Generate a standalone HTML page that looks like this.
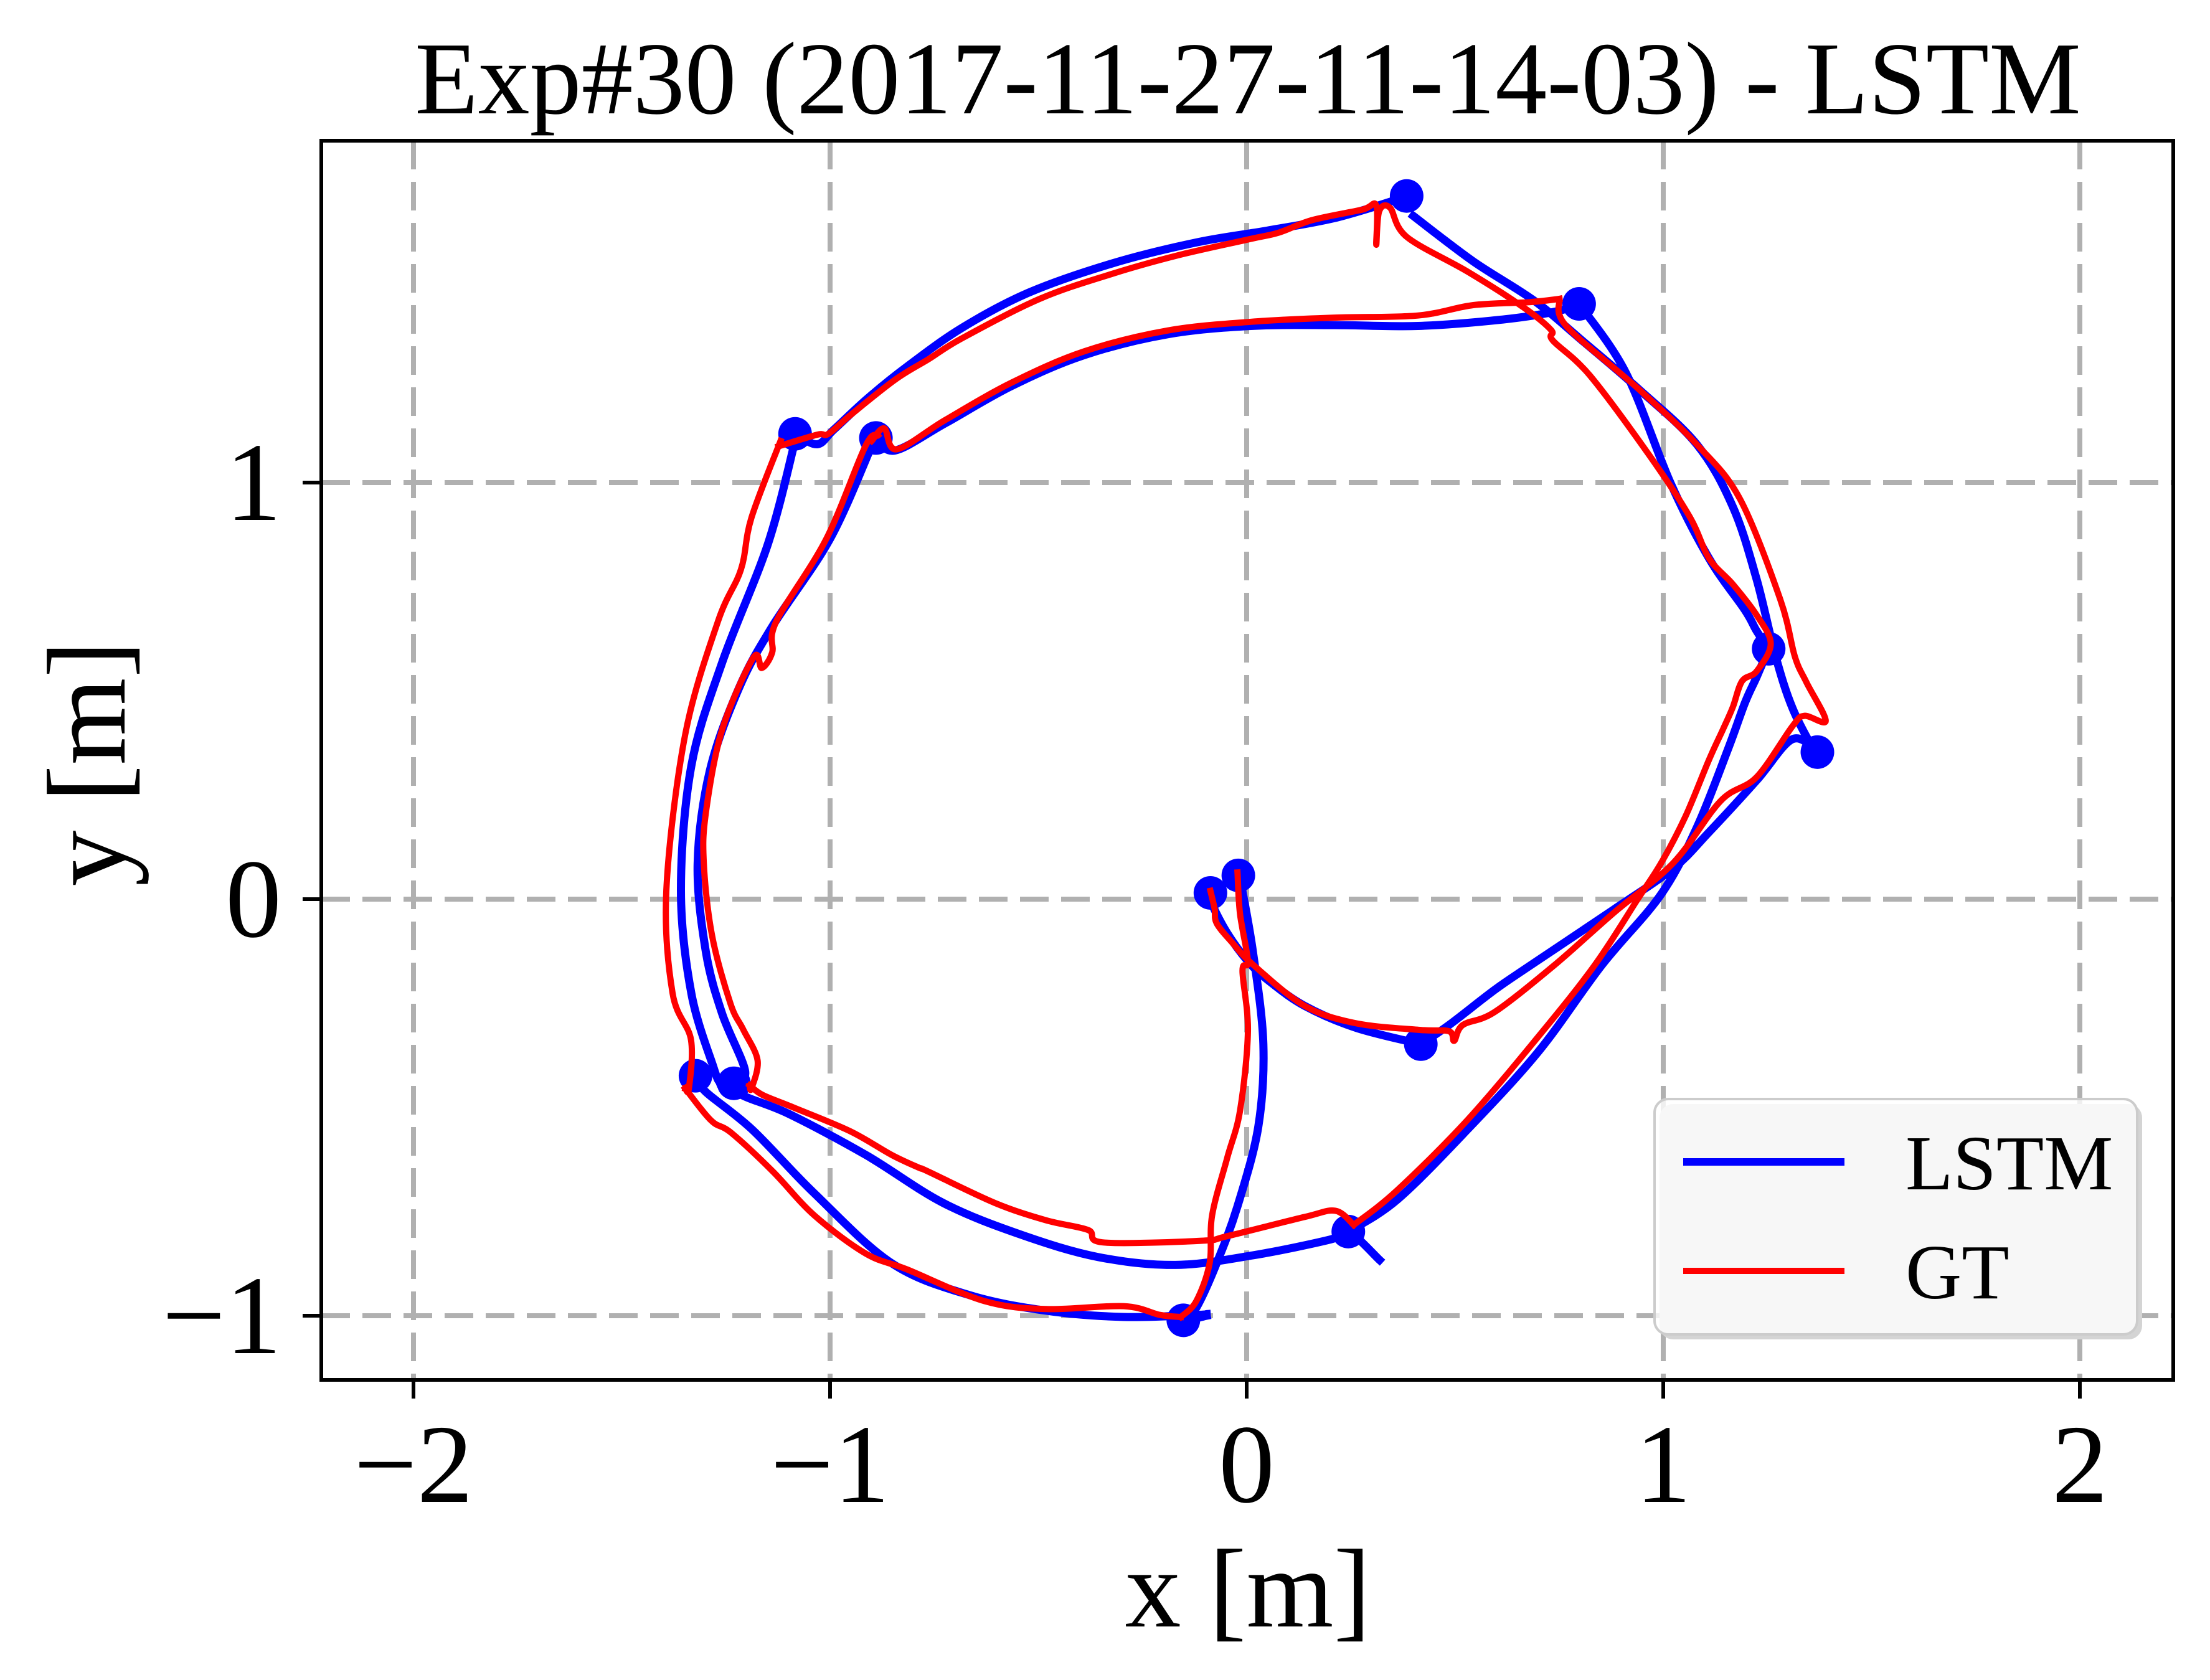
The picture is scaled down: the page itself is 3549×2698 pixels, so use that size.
<!DOCTYPE html>
<html><head><meta charset="utf-8"><style>
html,body{margin:0;padding:0;background:#fff;}
svg{display:block;font-family:"Liberation Serif","DejaVu Serif",serif;}
</style></head><body>
<svg id="chart" width="3549" height="2698" viewBox="0 0 3549 2698" xmlns="http://www.w3.org/2000/svg">
<rect x="0" y="0" width="3549" height="2698" fill="#fff"/>
<text x="2004" y="182" font-size="166" text-anchor="middle">Exp#30 (2017-11-27-11-14-03) - LSTM</text>
<g id="grid"></g>
<g id="series"></g>
<rect x="516" y="226" width="2974" height="1990" fill="none" stroke="#000" stroke-width="6"/>
<g id="ticks"></g>
<text x="2004" y="2612" font-size="180" text-anchor="middle">x [m]</text>
<text x="200" y="1226" font-size="180" text-anchor="middle" transform="rotate(-90 200 1226)">y [m]</text>
<g>
<rect x="2665" y="1773" width="775" height="378" rx="22" fill="#d4d4d4"/>
<rect x="2657" y="1765" width="775" height="378" rx="22" fill="#fff" fill-opacity="0.8" stroke="#cccccc" stroke-width="4"/>
<line x1="2703" y1="1866" x2="2962" y2="1866" stroke="#0000ff" stroke-width="12"/>
<text x="3060" y="1910" font-size="125">LSTM</text>
<line x1="2703" y1="2041" x2="2962" y2="2041" stroke="#ff0000" stroke-width="10"/>
<text x="3060" y="2085" font-size="125">GT</text>
</g>
</svg>
<script>
const xTicks = [-2, -1, 0, 1, 2];
const yTicks = [-1, 0, 1];
const xTickLabels = ["\u22122", "\u22121", "0", "1", "2"];
const yTickLabels = ["\u22121", "0", "1"];

const lstmOuterTop = [[-1.084,1.117],[-1.031,1.092],[-0.991,1.127],[-0.910,1.202],[-0.817,1.277],[-0.684,1.371],[-0.523,1.456],[-0.323,1.526],[-0.123,1.576],[0.050,1.605],[0.211,1.635],[0.357,1.678],[0.384,1.688]];
const lstmOuterRight = [[0.400,1.640],[0.544,1.531],[0.691,1.436],[0.811,1.336],[0.938,1.227],[1.081,1.091],[1.167,0.942],[1.224,0.768],[1.270,0.582],[1.310,0.459],[1.361,0.359],[1.370,0.353]];
const lstmRightToCenter = [[1.370,0.353],[1.310,0.384],[1.224,0.285],[1.110,0.161],[1.024,0.074],[0.881,-0.025],[0.681,-0.159],[0.595,-0.218],[0.486,-0.302],[0.418,-0.348]];
const lstmInnerCenter = [[0.418,-0.348],[0.263,-0.309],[0.139,-0.256],[0.052,-0.195],[0.003,-0.149],[-0.047,-0.081],[-0.083,-0.012],[-0.087,0.015]];
const lstmCenterDown = [[-0.020,0.057],[-0.016,0.049],[0.015,-0.126],[0.040,-0.348],[0.028,-0.546],[-0.022,-0.737],[-0.072,-0.874],[-0.121,-0.981],[-0.152,-1.011],[-0.096,-1.000]];
const lstmOuterBottom = [[-1.323,-0.424],[-1.299,-0.462],[-1.187,-0.553],[-1.038,-0.706],[-0.852,-0.874],[-0.667,-0.950],[-0.481,-0.988],[-0.295,-1.003],[-0.121,-0.998],[-0.096,-0.996]];
const lstmOuterLeft = [[-1.084,1.100],[-1.149,0.853],[-1.259,0.568],[-1.333,0.320],[-1.358,0.022],[-1.333,-0.226],[-1.279,-0.406],[-1.265,-0.440]];
const lstmInnerLeft = [[-0.890,1.107],[-0.900,1.088],[-1.000,0.865],[-1.139,0.654],[-1.219,0.506],[-1.289,0.307],[-1.318,0.084],[-1.298,-0.127],[-1.259,-0.275],[-1.204,-0.412],[-1.231,-0.442]];
const lstmInnerTop = [[-0.890,1.107],[-0.844,1.077],[-0.724,1.142],[-0.564,1.232],[-0.390,1.306],[-0.190,1.356],[0.010,1.376],[0.211,1.378],[0.411,1.376],[0.611,1.391],[0.744,1.411],[0.798,1.429]];
const lstmInnerRight = [[0.798,1.429],[0.910,1.264],[1.018,0.998],[1.110,0.818],[1.196,0.694],[1.224,0.644],[1.253,0.601]];
const lstmRightToBottom = [[1.253,0.601],[1.224,0.533],[1.196,0.471],[1.155,0.359],[1.081,0.173],[0.995,0.012],[0.852,-0.159],[0.701,-0.365],[0.531,-0.552],[0.362,-0.721],[0.244,-0.798]];
const lstmInnerBottom = [[0.319,-0.866],[0.244,-0.798],[0.201,-0.817],[0.015,-0.855],[-0.171,-0.878],[-0.357,-0.859],[-0.543,-0.805],[-0.729,-0.729],[-0.914,-0.614],[-1.100,-0.515],[-1.212,-0.470],[-1.231,-0.442]];

const gtOuterTopRight = [[-1.124,1.087],[-1.031,1.115],[-1.004,1.117],[-0.951,1.162],[-0.844,1.247],[-0.764,1.296],[-0.684,1.346],[-0.497,1.441],[-0.323,1.501],[-0.163,1.546],[0.010,1.585],[0.077,1.600],[0.157,1.630],[0.277,1.655],[0.311,1.665],[0.311,1.571],[0.318,1.651],[0.344,1.660],[0.384,1.590],[0.531,1.506],[0.664,1.421],[0.731,1.366],[0.735,1.341],[0.824,1.257],[0.969,1.062],[1.064,0.917],[1.110,0.818],[1.167,0.756],[1.224,0.682],[1.258,0.613],[1.224,0.547],[1.189,0.523],[1.167,0.461],[1.144,0.409],[1.110,0.335],[1.053,0.198],[0.995,0.087],[0.938,-0.001],[0.835,-0.159],[0.700,-0.330],[0.530,-0.530],[0.360,-0.700],[0.257,-0.782]];
const gtInnerBottom = [[0.257,-0.782],[0.213,-0.748],[0.139,-0.763],[-0.047,-0.809],[-0.109,-0.820],[-0.344,-0.824],[-0.381,-0.794],[-0.481,-0.771],[-0.605,-0.729],[-0.766,-0.653],[-0.786,-0.645],[-0.852,-0.614],[-0.952,-0.557],[-1.088,-0.500],[-1.162,-0.470],[-1.193,-0.447]];
const gtInnerLeft = [[-0.885,1.113],[-0.915,1.088],[-1.009,0.865],[-1.129,0.667],[-1.139,0.592],[-1.164,0.555],[-1.184,0.580],[-1.259,0.407],[-1.298,0.208],[-1.303,0.084],[-1.283,-0.089],[-1.239,-0.251],[-1.209,-0.312],[-1.174,-0.387],[-1.189,-0.455],[-1.193,-0.447]];
const gtInnerTop = [[-0.900,1.100],[-0.870,1.130],[-0.840,1.080],[-0.724,1.150],[-0.564,1.240],[-0.390,1.315],[-0.190,1.365],[0.010,1.386],[0.211,1.396],[0.411,1.401],[0.544,1.426],[0.678,1.433],[0.751,1.441]];
const gtOuterRight = [[0.751,1.441],[0.767,1.376],[0.938,1.227],[1.081,1.091],[1.184,0.961],[1.281,0.719],[1.316,0.582],[1.344,0.520],[1.390,0.428],[1.339,0.440],[1.310,0.415],[1.224,0.293],[1.138,0.236],[1.024,0.087],[0.881,-0.033],[0.738,-0.159],[0.595,-0.271],[0.519,-0.302],[0.498,-0.340],[0.486,-0.317],[0.418,-0.314],[0.263,-0.298],[0.139,-0.256],[0.015,-0.157],[-0.035,-0.104],[-0.072,-0.058],[-0.077,-0.023],[-0.087,0.020]];
const gtCenterDown = [[-0.022,0.064],[-0.016,-0.035],[0.003,-0.149],[-0.010,-0.172],[0.003,-0.317],[-0.016,-0.508],[-0.047,-0.622],[-0.083,-0.759],[-0.089,-0.874],[-0.121,-0.965],[-0.158,-1.003]];
const gtOuterBottom = [[-1.348,-0.454],[-1.286,-0.531],[-1.237,-0.561],[-1.138,-0.653],[-1.038,-0.759],[-0.914,-0.851],[-0.815,-0.889],[-0.629,-0.965],[-0.481,-0.984],[-0.295,-0.977],[-0.208,-0.998],[-0.158,-1.003]];
const gtOuterLeft = [[-1.119,1.100],[-1.189,0.915],[-1.214,0.791],[-1.269,0.667],[-1.348,0.394],[-1.393,0.022],[-1.378,-0.226],[-1.334,-0.337],[-1.339,-0.455],[-1.348,-0.454]];

const waypointX = [-1.084,-0.890,0.384,0.798,1.253,1.370,0.418,-0.087,-0.020,0.244,-0.152,-1.323,-1.231];
const waypointY = [1.117,1.107,1.688,1.429,0.601,0.353,-0.348,0.015,0.057,-0.798,-1.011,-0.424,-0.442];

const NS = "http://www.w3.org/2000/svg";
const X0 = 2002, Y0 = 1444, U = 669;
const L = 516, R = 3490, T = 226, B = 2216;
function sx(v){ return X0 + U * v; }
function sy(v){ return Y0 - U * v; }
function mk(tag, attrs, parent){
  const e = document.createElementNS(NS, tag);
  for (const k in attrs) e.setAttribute(k, attrs[k]);
  parent.appendChild(e);
  return e;
}
const grid = document.getElementById('grid');
const ticks = document.getElementById('ticks');
const series = document.getElementById('series');

xTicks.forEach((v, i) => {
  const g = mk('line', {x1: sx(v), x2: sx(v), y1: T, y2: B, stroke: '#b0b0b0', 'stroke-width': 8, 'stroke-dasharray': '46 20'}, grid);
  
  
  const t = mk('line', {x1: sx(v), x2: sx(v), y1: B, y2: B + 30, stroke: '#000', 'stroke-width': 6}, ticks);
  
  
  const lb = mk('text', {x: sx(v), y: 2412, 'font-size': 180, 'text-anchor': 'middle'}, ticks);
  lb.textContent = xTickLabels[i];
  
  
});
yTicks.forEach((v, i) => {
  const g = mk('line', {x1: L, x2: R, y1: sy(v), y2: sy(v), stroke: '#b0b0b0', 'stroke-width': 8, 'stroke-dasharray': '46 20'}, grid);
  
  
  const t = mk('line', {x1: L - 30, x2: L, y1: sy(v), y2: sy(v), stroke: '#000', 'stroke-width': 6}, ticks);
  
  
  const lb = mk('text', {x: 452, y: sy(v) + 60, 'font-size': 180, 'text-anchor': 'end'}, ticks);
  lb.textContent = yTickLabels[i];
  
  
});

function drawPath(pts, color, w, name){
  const P = pts.map(p => [sx(p[0]), sy(p[1])]);
  let d = 'M' + P[0][0].toFixed(1) + ' ' + P[0][1].toFixed(1);
  for (let i = 0; i < P.length - 1; i++) {
    const p0 = P[Math.max(0, i - 1)], p1 = P[i], p2 = P[i + 1], p3 = P[Math.min(P.length - 1, i + 2)];
    const c1 = [p1[0] + (p2[0] - p0[0]) / 6, p1[1] + (p2[1] - p0[1]) / 6];
    const c2 = [p2[0] - (p3[0] - p1[0]) / 6, p2[1] - (p3[1] - p1[1]) / 6];
    d += ' C' + c1[0].toFixed(1) + ' ' + c1[1].toFixed(1) + ' ' + c2[0].toFixed(1) + ' ' + c2[1].toFixed(1) + ' ' + p2[0].toFixed(1) + ' ' + p2[1].toFixed(1);
  }
  const p = mk('path', {d: d, fill: 'none', stroke: color, 'stroke-width': w, 'stroke-linejoin': 'round', 'stroke-linecap': 'square'}, series);
  
  
}
const lstmSegs = [lstmOuterTop, lstmOuterRight, lstmRightToCenter, lstmInnerCenter, lstmCenterDown, lstmOuterBottom, lstmOuterLeft, lstmInnerLeft, lstmInnerTop, lstmInnerRight, lstmRightToBottom, lstmInnerBottom];
const gtSegs = [gtOuterTopRight, gtInnerBottom, gtInnerLeft, gtInnerTop, gtOuterRight, gtCenterDown, gtOuterBottom, gtOuterLeft];
lstmSegs.forEach(s => drawPath(s, '#0000ff', 13, 'lstm-trajectory'));
waypointX.forEach((x, i) => {
  const c = mk('circle', {cx: sx(x), cy: sy(waypointY[i]), r: 27, fill: '#0000ff'}, series);
  
  
});
gtSegs.forEach(s => drawPath(s, '#ff0000', 10, 'gt-trajectory'));
</script>
</body></html>
